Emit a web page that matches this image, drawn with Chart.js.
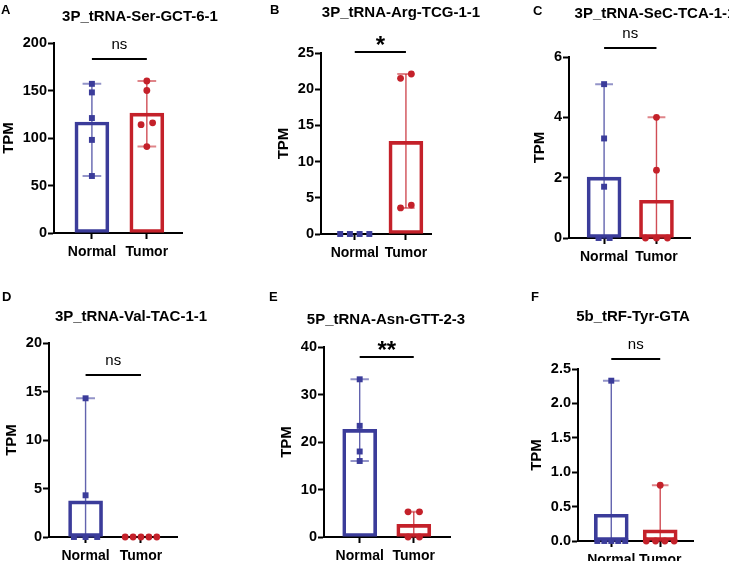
<!DOCTYPE html>
<html>
<head>
<meta charset="utf-8">
<title>tRF expression, Normal vs Tumor</title>
<script src="https://cdn.jsdelivr.net/npm/chart.js@4.4.1/dist/chart.umd.min.js"></script>
<style>
  body { margin: 0; background: #fff; }
  #wrap { position: relative; width: 729px; height: 561px; overflow: hidden; font-family: "Liberation Sans", Arial, sans-serif; color: #000; }
  #wrap canvas { position: absolute; left: 0; top: 0; }
  .letter { position: absolute; font-size: 13px; font-weight: bold; line-height: 1; }
  .ttl { position: absolute; font-size: 15px; font-weight: bold; line-height: 1; white-space: nowrap; transform: translate(-50%, -50%); }
</style>
</head>
<body>
<div id="wrap"></div>
<script>
const groups = ['Normal', 'Tumor'];
const letters = ['A', 'B', 'C', 'D', 'E', 'F'];
const titles = ['3P_tRNA-Ser-GCT-6-1', '3P_tRNA-Arg-TCG-1-1', '3P_tRNA-SeC-TCA-1-1',
                '3P_tRNA-Val-TAC-1-1', '5P_tRNA-Asn-GTT-2-3', '5b_tRF-Tyr-GTA'];

// TPM of each sample
const normalA = [157, 148, 121, 98, 60];
const tumorA = [160, 150, 116, 114, 91];
const normalB = [0, 0, 0, 0];
const tumorB = [22.1, 21.5, 4.0, 3.6];
const normalC = [5.1, 3.3, 1.7, 0, 0];
const tumorC = [4.0, 2.25, 0, 0, 0];
const normalD = [14.3, 4.3, 0, 0, 0];
const tumorD = [0, 0, 0, 0, 0];
const normalE = [33.2, 23.4, 18.0, 16.0];
const tumorE = [5.3, 5.3, 0, 0];
const normalF = [2.33, 0, 0, 0, 0, 0];
const tumorF = [0.81, 0, 0, 0, 0];

const normalValues = [normalA, normalB, normalC, normalD, normalE, normalF];
const tumorValues = [tumorA, tumorB, tumorC, tumorD, tumorE, tumorF];

// y axes
const yMax = [200, 25, 6, 20, 40, 2.5];
const yStep = [50, 5, 2, 5, 10, 0.5];

// significance marks and the level of their bracket
const sigMarks = ['ns', '*', 'ns', 'ns', '**', 'ns'];
const sigLevel = [183, 25.2, 6.3, 16.7, 38, 2.65];

// page layout: plot box [left, top, right, bottom] and x range of each panel
const boxes = [[54, 43, 182, 233], [321, 53, 431, 234], [569, 57, 690, 238],
               [49, 343, 177, 537], [324, 347, 450, 537], [578, 369, 693, 541]];
const xRange = [[-0.69, 1.64], [-0.66, 1.49], [-0.67, 1.64], [-0.66, 1.65], [-0.66, 1.67], [-0.68, 1.67]];
const letterPos = [[1, 3], [270, 3], [533, 4], [2, 290], [269, 290], [531, 290]];
const titlePos = [[140, 15], [401, 11], [655, 12], [131, 315], [386, 318], [633, 315]];

const BLUE = '#3b3c9a';
const RED = '#c4212a';
const colors = [BLUE, RED];

Chart.defaults.font.family = '"Liberation Sans", Arial, sans-serif';
Chart.defaults.color = '#000';

function mean(arr) {
    return arr.reduce((a, b) => a + b, 0) / arr.length;
}

function alpha(hex, a) {
    const n = parseInt(hex.slice(1), 16);
    return `rgba(${n >> 16}, ${(n >> 8) & 255}, ${n & 255}, ${a})`;
}

// points with (nearly) equal values sit side by side, like the prism scatter
function spread(values, g, max) {
    const idx = values.map((v, i) => i).sort((a, b) => values[a] - values[b]);
    const pts = [];
    let k = 0;
    while (k < idx.length) {
        let j = k + 1;
        while (j < idx.length && values[idx[j]] - values[idx[k]] < 0.035 * max) j++;
        const n = j - k;
        const step = n > 1 ? Math.min(0.21, 0.57 / (n - 1)) : 0;
        for (let m = 0; m < n; m++) {
            pts.push({ x: g + (m - (n - 1) / 2) * step, y: values[idx[k + m]] });
        }
        k = j;
    }
    return pts;
}

// min-max whiskers with caps
const whiskers = {
    id: 'whiskers',
    afterDatasetDraw(chart, args, opts) {
        if (args.meta.type !== 'bar') return;
        const xs = chart.scales.x, ys = chart.scales.y, ctx = chart.ctx;
        opts.sets.forEach((vals, g) => {
            const lo = Math.min(...vals), hi = Math.max(...vals);
            if (hi === lo) return;
            const x = xs.getPixelForValue(g);
            const xl = xs.getPixelForValue(g - 0.17), xr = xs.getPixelForValue(g + 0.17);
            const y0 = ys.getPixelForValue(lo), y1 = ys.getPixelForValue(hi);
            ctx.save();
            ctx.strokeStyle = alpha(colors[g], 0.8);
            ctx.lineWidth = 1.4;
            ctx.beginPath();
            ctx.moveTo(x, y0);
            ctx.lineTo(x, y1);
            ctx.stroke();
            ctx.strokeStyle = alpha(colors[g], 0.55);
            ctx.lineWidth = 2;
            ctx.beginPath();
            ctx.moveTo(xl, y1);
            ctx.lineTo(xr, y1);
            ctx.moveTo(xl, y0);
            ctx.lineTo(xr, y0);
            ctx.stroke();
            ctx.restore();
        });
    }
};

// significance bracket
const bracket = {
    id: 'bracket',
    afterDraw(chart, args, opts) {
        const xs = chart.scales.x, ys = chart.scales.y, ctx = chart.ctx;
        const x0 = xs.getPixelForValue(0), x1 = xs.getPixelForValue(1);
        const y = Math.round(ys.getPixelForValue(opts.level));
        ctx.save();
        ctx.strokeStyle = '#000';
        ctx.lineWidth = 2;
        ctx.beginPath();
        ctx.moveTo(x0, y);
        ctx.lineTo(x1, y);
        ctx.stroke();
        ctx.fillStyle = '#000';
        ctx.textAlign = 'center';
        ctx.textBaseline = 'alphabetic';
        if (opts.mark === 'ns') {
            ctx.font = '15px "Liberation Sans", Arial, sans-serif';
            ctx.fillText('ns', (x0 + x1) / 2, y - 10);
        } else {
            ctx.font = 'bold 24px "Liberation Sans", Arial, sans-serif';
            ctx.fillText(opts.mark, (x0 + x1) / 2, y + 1);
        }
        ctx.restore();
    }
};

const wrap = document.getElementById('wrap');

function fitArea(chart, box) {
    const a = chart.chartArea;
    const p = chart.options.layout.padding;
    p.left += box[0] - a.left;
    p.top += box[1] - a.top;
    p.right += a.right - box[2];
    p.bottom += a.bottom - box[3];
    chart.update('none');
}

for (let p = 0; p < 6; p++) {
    const canvas = document.createElement('canvas');
    canvas.width = 729;
    canvas.height = 561;
    wrap.appendChild(canvas);

    const sets = [normalValues[p], tumorValues[p]];
    const box = boxes[p];

    const chart = new Chart(canvas.getContext('2d'), {
        type: 'bar',
        data: {
            datasets: [
                {
                    type: 'bar',
                    data: sets.map((s, g) => ({ x: g, y: mean(s) })),
                    backgroundColor: 'rgba(255,255,255,0)',
                    borderColor: colors,
                    borderWidth: 3,
                    borderSkipped: false,
                    barThickness: 34,
                    order: 2
                },
                {
                    type: 'scatter',
                    data: spread(sets[0], 0, yMax[p]),
                    pointStyle: 'rect',
                    pointRadius: 4.2,
                    pointBackgroundColor: BLUE,
                    pointBorderWidth: 0,
                    clip: false,
                    order: 1
                },
                {
                    type: 'scatter',
                    data: spread(sets[1], 1, yMax[p]),
                    pointStyle: 'circle',
                    pointRadius: 3.4,
                    pointBackgroundColor: RED,
                    pointBorderWidth: 0,
                    clip: false,
                    order: 1
                }
            ]
        },
        options: {
            responsive: false,
            animation: false,
            devicePixelRatio: 1,
            events: [],
            layout: { padding: { left: box[0] - 50, top: box[1], right: 729 - box[2], bottom: 561 - box[3] - 30 } },
            plugins: {
                legend: { display: false },
                tooltip: { enabled: false },
                whiskers: { sets: sets },
                bracket: { level: sigLevel[p], mark: sigMarks[p] }
            },
            scales: {
                x: {
                    type: 'linear',
                    min: xRange[p][0],
                    max: xRange[p][1],
                    offset: false,
                    afterBuildTicks: s => { s.ticks = [{ value: 0 }, { value: 1 }]; },
                    ticks: {
                        callback: v => groups[v],
                        font: { size: 14, weight: 'bold' },
                        color: '#000',
                        padding: 5,
                        maxRotation: 0,
                        autoSkip: false
                    },
                    grid: { offset: false, drawOnChartArea: false, tickLength: 6, tickWidth: 2, tickColor: '#000' },
                    border: { color: '#000', width: 2 }
                },
                y: {
                    min: 0,
                    max: yMax[p],
                    ticks: {
                        stepSize: yStep[p],
                        font: { size: 14.5, weight: 'bold' },
                        color: '#000',
                        padding: 1,
                        callback: v => (yStep[p] < 1 ? v.toFixed(1) : v)
                    },
                    grid: { drawOnChartArea: false, tickLength: 6, tickWidth: 2, tickColor: '#000' },
                    border: { color: '#000', width: 2 },
                    title: {
                        display: true,
                        text: 'TPM',
                        font: { size: 15, weight: 'bold' },
                        color: '#000',
                        padding: { top: 0, bottom: 4 }
                    }
                }
            }
        },
        plugins: [whiskers, bracket]
    });
    fitArea(chart, box);

    const l = document.createElement('div');
    l.className = 'letter';
    l.textContent = letters[p];
    l.style.left = letterPos[p][0] + 'px';
    l.style.top = letterPos[p][1] + 'px';
    wrap.appendChild(l);

    const t = document.createElement('div');
    t.className = 'ttl';
    t.textContent = titles[p];
    t.style.left = titlePos[p][0] + 'px';
    t.style.top = titlePos[p][1] + 'px';
    wrap.appendChild(t);
}
</script>
</body>
</html>
